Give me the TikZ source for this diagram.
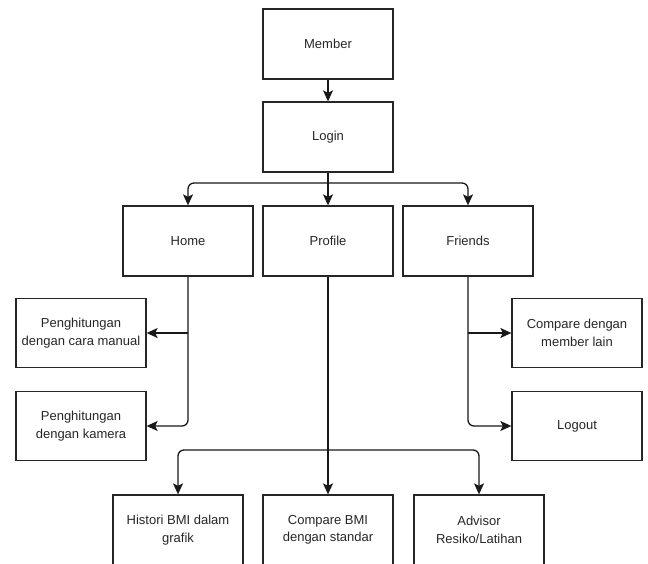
\documentclass[tikz,border=0pt]{standalone}
\usepackage{fontspec}
\setmainfont{Liberation Sans}
\usetikzlibrary{arrows.meta}
\begin{document}
\begin{tikzpicture}[x=1pt,y=-1pt,
  box/.style={draw=black!85, line width=1.3pt, minimum width=130pt, minimum height=70pt,
    inner sep=0pt, align=center, text=black!85, font=\fontsize{13}{17.5}\selectfont},
  conn/.style={draw=black!90, line width=1.3pt, -{Stealth[length=11pt,width=10pt,inset=2.5pt]}},
  plain/.style={draw=black!90, line width=1.3pt},
  rc/.style={rounded corners=6pt}]
\useasboundingbox (0,0) rectangle (648,564);
\node[box] (member) at (328,44) {Member};
\node[box] (login) at (328,137) {Login};
\node[box] (home) at (188,241) {Home};
\node[box] (profile) at (328,241) {Profile};
\node[box] (friends) at (468,241) {Friends};
\node[box, minimum height=69pt] (manual) at (81,333) {Penghitungan\\dengan cara manual};
\node[box, minimum height=69pt] (kamera) at (81,426) {Penghitungan\\dengan kamera};
\node[box, minimum height=69pt] (cmember) at (577,333) {Compare dengan\\member lain};
\node[box, minimum height=69pt] (logout) at (577,426) {Logout};
\node[box] (histori) at (178,530) {Histori BMI dalam\\grafik};
\node[box] (cbmi) at (328,530) {Compare BMI\\dengan standar};
\node[box] (advisor) at (479,530) {Advisor\\Resiko/Latihan};
\coordinate (lj) at (328,183);
\coordinate (pj) at (328,450);
% member -> login
\draw[conn] (member) -- (login);
% login -> home/profile/friends
\draw[plain] (login.south) -- (lj);
\draw[conn] (lj) -- (profile.north);
\draw[conn, rc] (lj) -| (home.north);
\draw[conn, rc] (lj) -| (friends.north);
% home -> manual/kamera
\draw[conn, rc] (home.south) |- (kamera.east);
\draw[conn] (home.south |- manual.east) -- (manual.east);
% friends -> compare/logout
\draw[conn, rc] (friends.south) |- (logout.west);
\draw[conn] (friends.south |- cmember.west) -- (cmember.west);
% profile -> bottom
\draw[conn] (profile.south) -- (cbmi.north);
\draw[conn, rc] (pj) -| (histori.north);
\draw[conn, rc] (pj) -| (advisor.north);
\end{tikzpicture}
\end{document}
